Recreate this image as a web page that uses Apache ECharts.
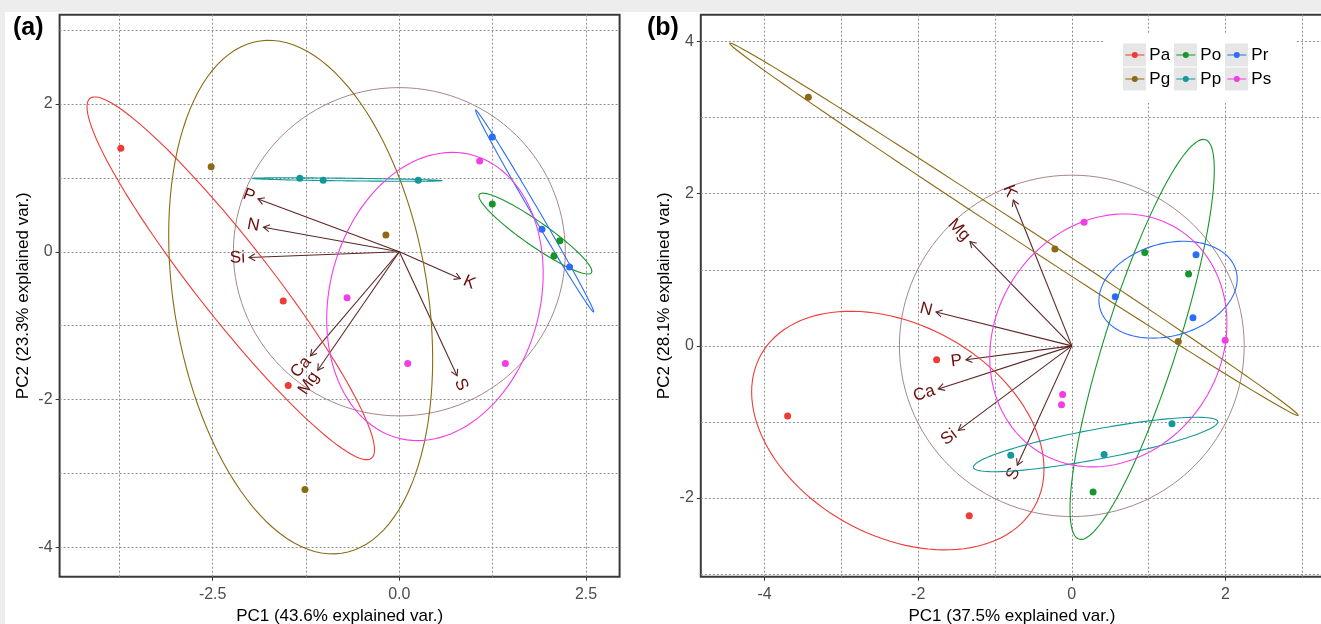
<!DOCTYPE html>
<html>
<head>
<meta charset="utf-8" />
<title>PCA biplots</title>
<style>
  html, body { margin: 0; padding: 0; width: 100%; height: 100%; background: #ededed; overflow: hidden; }
  #paper { position: absolute; left: 5px; top: 12px; right: 0; bottom: 0; background: #fff; }
  #main { position: absolute; left: 0; top: 0; width: 1321px; height: 624px; }
</style>
</head>
<body>
<div id="paper"></div>
<div id="main"></div>
<script src="https://cdn.jsdelivr.net/npm/echarts/dist/echarts.min.js"></script>
<script>
// groups (legend order follows ggplot: Pa Pg Po Pp Pr Ps)
var groups = ["Pa", "Pg", "Po", "Pp", "Pr", "Ps"];
var groupColors = ["#ef3b36", "#8b6a12", "#16962a", "#13989a", "#2d6df6", "#f23de6"];

// PC scores, panel (a)
var scoresA = {
  Pa: [[-3.73, 1.40], [-1.555, -0.668], [-1.488, -1.81]],
  Pg: [[-2.52, 1.15], [-0.18, 0.228], [-1.264, -3.22]],
  Po: [[1.245, 0.647], [2.15, 0.15], [2.07, -0.059]],
  Pp: [[-1.333, 0.996], [-1.02, 0.969], [0.253, 0.969]],
  Pr: [[1.245, 1.555], [1.91, 0.305], [2.28, -0.205]],
  Ps: [[1.076, 1.228], [-0.70, -0.622], [0.112, -1.514], [1.42, -1.514]]
};
// PC scores, panel (b)
var scoresB = {
  Pa: [[-1.76, -0.183], [-3.70, -0.923], [-1.335, -2.235]],
  Pg: [[-3.43, 3.27], [-0.22, 1.273], [1.386, 0.057]],
  Po: [[0.95, 1.229], [1.52, 0.946], [0.277, -1.92]],
  Pp: [[1.304, -1.023], [-0.795, -1.438], [0.42, -1.429]],
  Pr: [[1.617, 1.199], [0.565, 0.646], [1.577, 0.371]],
  Ps: [[0.16, 1.626], [-0.12, -0.64], [-0.134, -0.775], [1.996, 0.075]]
};

// variable arrows (scaled loadings)
var varNames = ["P", "N", "Si", "K", "Ca", "Mg", "S"];
var loadingsA = [[-1.893, 0.715], [-1.82, 0.333], [-2.013, -0.077], [0.818, -0.364], [-1.19, -1.41], [-1.093, -1.605], [0.773, -1.68]];
var loadingsB = [[-1.378, -0.183], [-1.768, 0.445], [-1.478, -1.111], [-0.762, 1.918], [-1.738, -0.566], [-1.326, 1.373], [-0.71, -1.569]];

// axis labels and grid lines
var xLabelsA = [-2.5, 0, 2.5];
var xGridA = [-3.75, -2.5, -1.25, 0, 1.25, 2.5];
var yLabelsA = [-4, -2, 0, 2];
var yGridA = [-4, -3, -2, -1, 0, 1, 2, 3];
var xLabelsB = [-4, -2, 0, 2];
var xGridB = [-4, -3, -2, -1, 0, 1, 2, 3];
var yLabelsB = [-2, 0, 2, 4];
var yGridB = [-3, -2, -1, 0, 1, 2, 3, 4];

var FONT = '"Liberation Sans", Arial, sans-serif';
var arrowColor = "#5e2525";
var labelColor = "#6e0c0c";

// qchisq(p, df = 2)
function chi2Radius(p) {
  return Math.sqrt(-2 * Math.log(1 - p));
}

// normal data ellipse like ggbiplot (ellipse.prob = 0.68)
function ellipseOutline(pts) {
  var n = pts.length, mx = 0, my = 0;
  pts.forEach(function (p) { mx += p[0]; my += p[1]; });
  mx /= n; my /= n;
  var sxx = 0, syy = 0, sxy = 0;
  pts.forEach(function (p) {
    sxx += (p[0] - mx) * (p[0] - mx);
    syy += (p[1] - my) * (p[1] - my);
    sxy += (p[0] - mx) * (p[1] - my);
  });
  sxx /= n - 1; syy /= n - 1; sxy /= n - 1;
  var a = Math.sqrt(sxx), b = sxy / a, c = Math.sqrt(Math.max(syy - b * b, 0));
  var ed = chi2Radius(0.68);
  var out = [];
  for (var i = 0; i <= 120; i++) {
    var t = -Math.PI + 2 * Math.PI * i / 120;
    out.push([mx + ed * Math.cos(t) * a, my + ed * (Math.cos(t) * b + Math.sin(t) * c)]);
  }
  return out;
}

// correlation circle radius like ggbiplot (circle.prob = 0.69)
function circleRadius(scores) {
  var sx = 0, sy = 0, n = 0;
  groups.forEach(function (g) {
    scores[g].forEach(function (p) { sx += p[0] * p[0]; sy += p[1] * p[1]; n++; });
  });
  return chi2Radius(0.69) * Math.pow((sx / n) * (sy / n), 0.25);
}

function centroid(pts) {
  var mx = 0, my = 0;
  pts.forEach(function (p) { mx += p[0]; my += p[1]; });
  return [mx / pts.length, my / pts.length];
}

function circleSeries(scores, idx) {
  var r = circleRadius(scores);
  return {
    type: "custom", xAxisIndex: idx, yAxisIndex: idx, silent: true, z: 2,
    data: [[0, 0]],
    renderItem: function (params, api) {
      var pts = [];
      for (var i = 0; i <= 120; i++) {
        var t = 2 * Math.PI * i / 120;
        pts.push(api.coord([r * Math.cos(t), r * Math.sin(t)]));
      }
      return { type: "polyline", shape: { points: pts }, style: { stroke: "#a58787", fill: null, lineWidth: 1 } };
    }
  };
}

function ellipseSeries(scores, idx) {
  return {
    type: "custom", xAxisIndex: idx, yAxisIndex: idx, silent: true, z: 4, clip: true,
    data: groups.map(function (g) { return centroid(scores[g]); }),
    renderItem: function (params, api) {
      var g = groups[params.dataIndex];
      var pts = ellipseOutline(scores[g]).map(function (p) { return api.coord(p); });
      return { type: "polyline", shape: { points: pts }, style: { stroke: groupColors[params.dataIndex], fill: null, lineWidth: 1.1 } };
    }
  };
}

function arrowSeries(loadings, idx) {
  return {
    type: "custom", xAxisIndex: idx, yAxisIndex: idx, silent: true, z: 3,
    data: loadings,
    renderItem: function (params, api) {
      var x = api.value(0), y = api.value(1);
      var o = api.coord([0, 0]), t = api.coord([x, y]);
      var ang = Math.atan2(t[1] - o[1], t[0] - o[0]);
      var hl = 7, ha = Math.PI / 6;
      var h1 = [t[0] - hl * Math.cos(ang - ha), t[1] - hl * Math.sin(ang - ha)];
      var h2 = [t[0] - hl * Math.cos(ang + ha), t[1] - hl * Math.sin(ang + ha)];
      var left = x < 0;
      return {
        type: "group",
        children: [
          { type: "line", shape: { x1: o[0], y1: o[1], x2: t[0], y2: t[1] }, style: { stroke: arrowColor, lineWidth: 1.1 } },
          { type: "polyline", shape: { points: [h1, t, h2] }, style: { stroke: arrowColor, fill: null, lineWidth: 1.1 } },
          {
            type: "text", x: t[0], y: t[1], rotation: Math.atan(y / x), z2: 10,
            style: {
              text: varNames[params.dataIndex], x: left ? -4 : 4, y: 0,
              align: left ? "right" : "left", verticalAlign: "middle",
              fill: labelColor, fontSize: 17, fontFamily: FONT
            }
          }
        ]
      };
    }
  };
}

function xAxisOf(idx, min, max, labels, grid, title, fmt) {
  return {
    gridIndex: idx, type: "value", min: min, max: max,
    name: title, nameLocation: "middle", nameGap: 28,
    nameTextStyle: { fontSize: 17, color: "#000", fontFamily: FONT },
    axisLine: { show: false, onZero: false },
    axisTick: { show: false, customValues: grid },
    axisLabel: { customValues: labels, formatter: fmt, margin: 10, fontSize: 16, color: "#4d4d4d", fontFamily: FONT },
    splitLine: { show: true, lineStyle: { color: "#8f8f8f", type: [2, 2], width: 1 } }
  };
}

function yAxisOf(idx, min, max, labels, grid, title) {
  return {
    gridIndex: idx, type: "value", min: min, max: max,
    name: title, nameLocation: "middle", nameRotate: 90, nameGap: 28,
    nameTextStyle: { fontSize: 17, color: "#000", fontFamily: FONT },
    axisLine: { show: false, onZero: false },
    axisTick: { show: false, customValues: grid },
    axisLabel: { customValues: labels, formatter: function (v) { return String(v); }, margin: 7, fontSize: 16, color: "#4d4d4d", fontFamily: FONT },
    splitLine: { show: true, lineStyle: { color: "#8f8f8f", type: [2, 2], width: 1 } }
  };
}

// tick-mark-only axes (ticks at labelled values)
function tickAxisOf(idx, min, max, labels, pos) {
  return {
    gridIndex: idx, type: "value", min: min, max: max, position: pos,
    axisLine: { show: false, onZero: false },
    axisTick: { show: true, length: 4, customValues: labels, lineStyle: { color: "#333", width: 1 } },
    axisLabel: { show: false },
    splitLine: { show: false }
  };
}

var series = [
  circleSeries(scoresA, 0), circleSeries(scoresB, 1),
  arrowSeries(loadingsA, 0), arrowSeries(loadingsB, 1),
  ellipseSeries(scoresA, 0), ellipseSeries(scoresB, 1)
];
groups.forEach(function (g, i) {
  [scoresA, scoresB].forEach(function (sc, idx) {
    series.push({
      name: g, type: "scatter", xAxisIndex: idx, yAxisIndex: idx, silent: true, z: 5,
      data: sc[g], symbolSize: 7, itemStyle: { color: groupColors[i], opacity: 1 }
    });
  });
});

// legend key boxes (ggplot grey keys)
var keyBoxes = [];
[43.5, 67.5].forEach(function (ky) {
  [1123, 1174, 1225].forEach(function (kx) {
    keyBoxes.push({ type: "rect", z: 3.5, silent: true, shape: { x: kx, y: ky, width: 23, height: 23 }, style: { fill: "#e6e6e6" } });
  });
});

var chart = echarts.init(document.getElementById("main"));
chart.setOption({
  animation: false,
  backgroundColor: "transparent",
  title: [
    { text: "(a)", left: 13, top: 16, padding: 0, textStyle: { fontSize: 25, fontWeight: "bold", color: "#000", fontFamily: FONT } },
    { text: "(b)", left: 647, top: 16, padding: 0, textStyle: { fontSize: 25, fontWeight: "bold", color: "#000", fontFamily: FONT } }
  ],
  grid: [
    { left: 59.6, top: 14.7, width: 560, height: 562, show: true, borderColor: "#3a3a3a", borderWidth: 2, backgroundColor: "transparent", outerBoundsMode: "none", containLabel: false },
    { left: 700.8, top: 14.7, width: 622.2, height: 562, show: true, borderColor: "#3a3a3a", borderWidth: 2, backgroundColor: "transparent", outerBoundsMode: "none", containLabel: false }
  ],
  xAxis: [
    xAxisOf(0, -4.55, 2.95, xLabelsA, xGridA, "PC1 (43.6% explained var.)", function (v) { return v.toFixed(1); }),
    xAxisOf(1, -4.83, 3.27, xLabelsB, xGridB, "PC1 (37.5% explained var.)", function (v) { return String(v); }),
    tickAxisOf(0, -4.55, 2.95, xLabelsA, "bottom"),
    tickAxisOf(1, -4.83, 3.27, xLabelsB, "bottom")
  ],
  yAxis: [
    yAxisOf(0, -4.40, 3.21, yLabelsA, yGridA, "PC2 (23.3% explained var.)"),
    yAxisOf(1, -3.035, 4.354, yLabelsB, yGridB, "PC2 (28.1% explained var.)"),
    tickAxisOf(0, -4.40, 3.21, yLabelsA, "left"),
    tickAxisOf(1, -3.035, 4.354, yLabelsB, "left")
  ],
  graphic: [{ type: "rect", z: 3, silent: true, shape: { x: 1104, y: 33, width: 192, height: 70 }, style: { fill: "#fff" } }].concat(keyBoxes),
  legend: {
    data: ["Pa", "Po", "Pr", "Pg", "Pp", "Ps"],
    left: 1125.3, top: 45.5, width: 150, padding: 0,
    orient: "horizontal", selectedMode: false,
    icon: "path://M0,2.4H19V3.6H0Z M12.5,3A3,3,0,1,1,6.5,3A3,3,0,1,1,12.5,3Z",
    itemWidth: 19, itemHeight: 6, itemGap: 5,
    textStyle: { fontSize: 17, color: "#000", fontFamily: FONT, width: 22, lineHeight: 19 }
  },
  series: series
});
</script>
</body>
</html>
